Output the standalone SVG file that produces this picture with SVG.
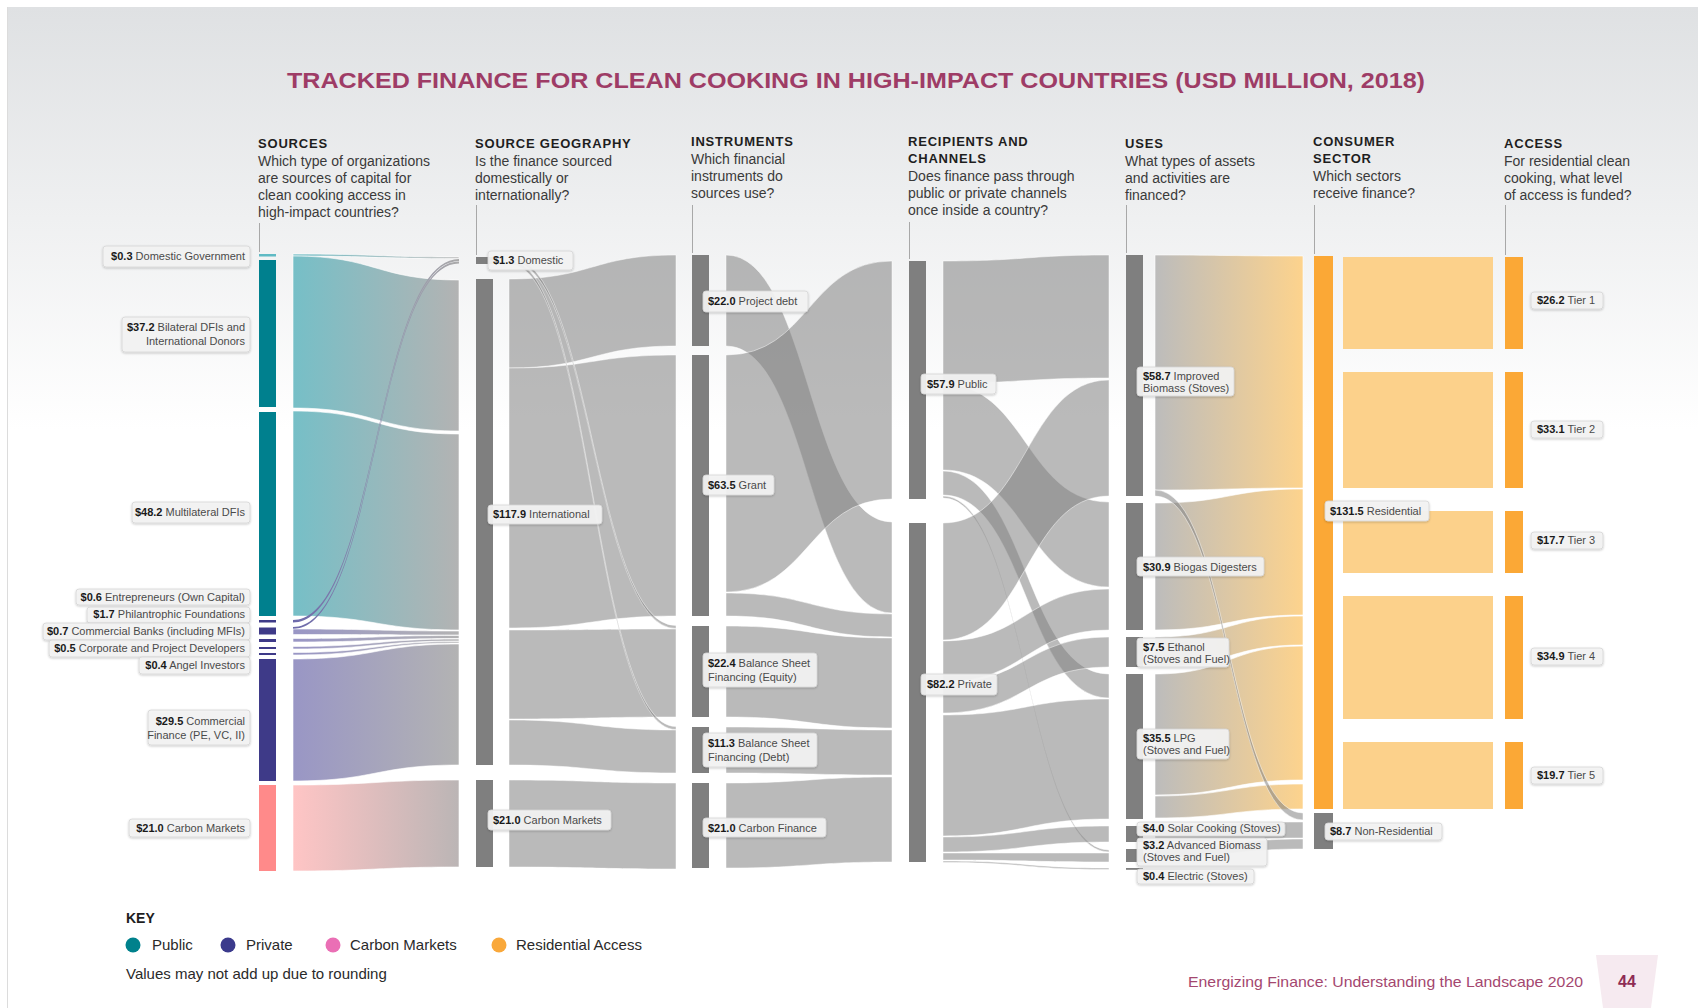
<svg xmlns="http://www.w3.org/2000/svg" width="1698" height="1008" viewBox="0 0 1698 1008">
<defs>
<linearGradient id="bg" x1="0" y1="7" x2="0" y2="430" gradientUnits="userSpaceOnUse"><stop offset="0" stop-color="#dfe1e3"/><stop offset="1" stop-color="#ffffff"/></linearGradient>
<linearGradient id="gTeal" x1="293" y1="0" x2="459" y2="0" gradientUnits="userSpaceOnUse"><stop offset="0" stop-color="#76bfc7"/><stop offset="1" stop-color="#b3b3b3"/></linearGradient>
<linearGradient id="gPurp" x1="293" y1="0" x2="459" y2="0" gradientUnits="userSpaceOnUse"><stop offset="0" stop-color="#9996c5"/><stop offset="1" stop-color="#b3b3b3"/></linearGradient>
<linearGradient id="gPurpL" x1="293" y1="0" x2="459" y2="0" gradientUnits="userSpaceOnUse"><stop offset="0" stop-color="#6d69ab"/><stop offset="1" stop-color="#aaaaaa"/></linearGradient>
<linearGradient id="gPink" x1="293" y1="0" x2="459" y2="0" gradientUnits="userSpaceOnUse"><stop offset="0" stop-color="#ffc5c5"/><stop offset="1" stop-color="#bbb5b5"/></linearGradient>
<linearGradient id="gOr" x1="1155" y1="0" x2="1303" y2="0" gradientUnits="userSpaceOnUse"><stop offset="0" stop-color="#bcbcbc"/><stop offset="1" stop-color="#fdd38d"/></linearGradient>
<filter id="sh" x="-10%" y="-30%" width="120%" height="170%"><feDropShadow dx="0" dy="1" stdDeviation="1.2" flood-color="#000" flood-opacity="0.22"/></filter>
<style>
.fl{fill:#828282;fill-opacity:.55;stroke:#fff;stroke-opacity:.6;stroke-width:.8}
.ft{fill:url(#gTeal);stroke:#fff;stroke-width:.6}
.fp{fill:url(#gPurp);stroke:#fff;stroke-width:.6}
.fpl{fill:url(#gPurpL);stroke:none}
.fk{fill:url(#gPink);stroke:#fff;stroke-width:.6}
.fo{fill:url(#gOr);stroke:#fff;stroke-width:.6}
.fr{fill:#fcd18b}
.bg{fill:#7f7f7f}
.bt{fill:#00808e}
.bp{fill:#3e3a88}
.bk{fill:#ff8a8a}
.bo{fill:#fba836}
.lb rect{fill:#f3f3f3;fill-opacity:.93;stroke:#d6d6d6;stroke-width:.8;filter:url(#sh)}
.lb text{font-family:"Liberation Sans",Arial,sans-serif;font-size:11px;fill:#4a4a4a}
.v{font-weight:bold;fill:#1a1a1a}
.hd{font-family:"Liberation Sans",Arial,sans-serif;font-size:13px;font-weight:bold;letter-spacing:.8px;fill:#1e1e1e}
.ds{font-family:"Liberation Sans",Arial,sans-serif;font-size:14px;fill:#3a3a3a}
.gl{stroke:#a8a8a8;stroke-width:1}
.kt{font-family:"Liberation Sans",Arial,sans-serif;font-size:15px;fill:#2a2a2a}
</style>
</defs>

<rect x="0" y="0" width="1698" height="1008" fill="#fff"/>
<rect x="8" y="7" width="1690" height="1001" fill="url(#bg)"/>
<line x1="7.5" y1="7" x2="7.5" y2="1008" stroke="#dcdcdc" stroke-width="1"/>

<text x="287" y="88" font-family="'Liberation Sans',Arial,sans-serif" font-size="22.5" font-weight="bold" fill="#9e3c66" textLength="1138" lengthAdjust="spacingAndGlyphs">TRACKED FINANCE FOR CLEAN COOKING IN HIGH-IMPACT COUNTRIES (USD MILLION, 2018)</text>

<g id="headers">
<text class="hd" x="258" y="148">SOURCES</text>
<text class="ds" x="258" y="166">Which type of organizations</text>
<text class="ds" x="258" y="183">are sources of capital for</text>
<text class="ds" x="258" y="200">clean cooking access in</text>
<text class="ds" x="258" y="217">high-impact countries?</text>
<text class="hd" x="475" y="148">SOURCE GEOGRAPHY</text>
<text class="ds" x="475" y="166">Is the finance sourced</text>
<text class="ds" x="475" y="183">domestically or</text>
<text class="ds" x="475" y="200">internationally?</text>
<text class="hd" x="691" y="146">INSTRUMENTS</text>
<text class="ds" x="691" y="164">Which financial</text>
<text class="ds" x="691" y="181">instruments do</text>
<text class="ds" x="691" y="198">sources use?</text>
<text class="hd" x="908" y="146">RECIPIENTS AND</text>
<text class="hd" x="908" y="163">CHANNELS</text>
<text class="ds" x="908" y="181">Does finance pass through</text>
<text class="ds" x="908" y="198">public or private channels</text>
<text class="ds" x="908" y="215">once inside a country?</text>
<text class="hd" x="1125" y="148">USES</text>
<text class="ds" x="1125" y="166">What types of assets</text>
<text class="ds" x="1125" y="183">and activities are</text>
<text class="ds" x="1125" y="200">financed?</text>
<text class="hd" x="1313" y="146">CONSUMER</text>
<text class="hd" x="1313" y="163">SECTOR</text>
<text class="ds" x="1313" y="181">Which sectors</text>
<text class="ds" x="1313" y="198">receive finance?</text>
<text class="hd" x="1504" y="148">ACCESS</text>
<text class="ds" x="1504" y="166">For residential clean</text>
<text class="ds" x="1504" y="183">cooking, what level</text>
<text class="ds" x="1504" y="200">of access is funded?</text>
<line class="gl" x1="259.5" y1="223" x2="259.5" y2="252"/>
<line class="gl" x1="476.5" y1="205" x2="476.5" y2="255"/>
<line class="gl" x1="692.5" y1="205" x2="692.5" y2="253"/>
<line class="gl" x1="909.5" y1="222" x2="909.5" y2="259"/>
<line class="gl" x1="1126.5" y1="205" x2="1126.5" y2="253"/>
<line class="gl" x1="1314.5" y1="205" x2="1314.5" y2="254"/>
<line class="gl" x1="1505.5" y1="205" x2="1505.5" y2="255"/>
</g>

<g id="connectors">
<!-- stage 1 -->
<path class="ft" d="M293 254 C376 254 376 257 459 257 L459 258.5 C376 258.5 376 256 293 256 Z"/>
<path class="ft" d="M293 256 C376 256 376 280 459 280 L459 431 C376 431 376 408 293 408 Z"/>
<path class="ft" d="M293 411 C376 411 376 434 459 434 L459 630 C376 630 376 616 293 616 Z"/>
<path class="fpl" d="M293 620 C376 620 376 259 459 259 L459 261 C376 261 376 622.5 293 622.5 Z"/>
<path class="fpl" d="M293 627 C376 627 376 261.5 459 261.5 L459 263.5 C376 263.5 376 629 293 629 Z"/>
<path class="fp" d="M293 629 C376 629 376 631 459 631 L459 635 C376 635 376 634.5 293 634.5 Z"/>
<path class="fp" d="M293 638.5 C376 638.5 376 635.5 459 635.5 L459 638.5 C376 638.5 376 642 293 642 Z"/>
<path class="fp" d="M293 646.5 C376 646.5 376 639 459 639 L459 641 C376 641 376 649 293 649 Z"/>
<path class="fp" d="M293 652.5 C376 652.5 376 641.5 459 641.5 L459 643 C376 643 376 655 293 655 Z"/>
<path class="fp" d="M293 659 C376 659 376 644 459 644 L459 765 C376 765 376 781 293 781 Z"/>
<path class="fk" d="M293 785 C376 785 376 780 459 780 L459 867 C376 867 376 871 293 871 Z"/>
<!-- stage 2 -->
<path class="fl" d="M509 279 C592.5 279 592.5 255 676 255 L676 346 C592.5 346 592.5 368 509 368 Z"/>
<path class="fl" d="M509 368 C592.5 368 592.5 355 676 355 L676 616 C592.5 616 592.5 628 509 628 Z"/>
<path class="fl" d="M509 630 C592.5 630 592.5 629 676 629 L676 717 C592.5 717 592.5 719 509 719 Z"/>
<path class="fl" d="M509 720 C592.5 720 592.5 730 676 730 L676 773 C592.5 773 592.5 765 509 765 Z"/>
<path class="fl" d="M509 257 C592.5 257 592.5 625.5 676 625.5 L676 628.5 C592.5 628.5 592.5 260.5 509 260.5 Z"/>
<path class="fl" d="M509 260.5 C592.5 260.5 592.5 726.5 676 726.5 L676 729.5 C592.5 729.5 592.5 264 509 264 Z"/>
<path class="fl" d="M509 780 C592.5 780 592.5 783 676 783 L676 869 C592.5 869 592.5 867 509 867 Z"/>
<!-- stage 3 -->
<path class="fl" d="M726 255 C809 255 809 522 892 522 L892 613 C809 613 809 346 726 346 Z"/>
<path class="fl" d="M726 355 C809 355 809 261 892 261 L892 499 C809 499 809 592 726 592 Z"/>
<path class="fl" d="M726 593 C809 593 809 614 892 614 L892 637 C809 637 809 616 726 616 Z"/>
<path class="fl" d="M726 626 C809 626 809 638 892 638 L892 728 C809 728 809 717 726 717 Z"/>
<path class="fl" d="M726 727 C809 727 809 730 892 730 L892 775 C809 775 809 773 726 773 Z"/>
<path class="fl" d="M726 783 C809 783 809 777 892 777 L892 862 C809 862 809 868 726 868 Z"/>
<!-- stage 4 -->
<path class="fl" d="M943 261 C1026 261 1026 255 1109 255 L1109 378 C1026 378 1026 383 943 383 Z"/>
<path class="fl" d="M943 384 C1026 384 1026 502 1109 502 L1109 587 C1026 587 1026 470 943 470 Z"/>
<path class="fl" d="M943 471 C1026 471 1026 674 1109 674 L1109 698 C1026 698 1026 495 943 495 Z"/>
<path class="fl" d="M943 496 C1026 496 1026 850 1109 850 L1109 852 C1026 852 1026 498 943 498 Z"/>
<path class="fl" d="M943 523 C1026 523 1026 380 1109 380 L1109 496 C1026 496 1026 640 943 640 Z"/>
<path class="fl" d="M943 641 C1026 641 1026 589 1109 589 L1109 630 C1026 630 1026 682 943 682 Z"/>
<path class="fl" d="M943 683 C1026 683 1026 637 1109 637 L1109 667 C1026 667 1026 713 943 713 Z"/>
<path class="fl" d="M943 715 C1026 715 1026 699 1109 699 L1109 819 C1026 819 1026 836 943 836 Z"/>
<path class="fl" d="M943 837 C1026 837 1026 826 1109 826 L1109 842 C1026 842 1026 852 943 852 Z"/>
<path class="fl" d="M943 853 C1026 853 1026 853 1109 853 L1109 862 C1026 862 1026 860 943 860 Z"/>
<path class="fl" d="M943 861 C1026 861 1026 868 1109 868 L1109 869.5 C1026 869.5 1026 862.5 943 862.5 Z"/>
<!-- stage 5 -->
<path class="fo" d="M1155 255 C1229 255 1229 256 1303 256 L1303 488 C1229 488 1229 490 1155 490 Z"/>
<path class="fo" d="M1155 503 C1229 503 1229 489 1303 489 L1303 615 C1229 615 1229 630 1155 630 Z"/>
<path class="fo" d="M1155 637 C1229 637 1229 616 1303 616 L1303 645 C1229 645 1229 667 1155 667 Z"/>
<path class="fo" d="M1155 674 C1229 674 1229 646 1303 646 L1303 780 C1229 780 1229 795 1155 795 Z"/>
<path class="fo" d="M1155 796 C1229 796 1229 784 1303 784 L1303 809 C1229 809 1229 818 1155 818 Z"/>
<path class="fl" d="M1155 490 C1229 490 1229 813 1303 813 L1303 820 C1229 820 1229 496 1155 496 Z"/>
<path class="fl" d="M1155 826 C1229 826 1229 822 1303 822 L1303 838 C1229 838 1229 842 1155 842 Z"/>
<path class="fl" d="M1155 849 C1229 849 1229 839 1303 839 L1303 849 C1229 849 1229 858 1155 858 Z"/>
<!-- stage 6 -->
<rect class="fr" x="1343" y="257" width="150" height="92"/>
<rect class="fr" x="1343" y="372" width="150" height="116"/>
<rect class="fr" x="1343" y="511" width="150" height="62"/>
<rect class="fr" x="1343" y="596" width="150" height="123"/>
<rect class="fr" x="1343" y="742" width="150" height="67"/>
</g>

<!-- SOURCES -->
<g id="n-domgov"><rect x="259" y="254" width="17" height="2.5" fill="#5fbac4"/>
<g class="lb"><rect x="103" y="246" width="147" height="21" rx="3"/><text x="245" y="260" text-anchor="end"><tspan class="v">$0.3</tspan> Domestic Government</text></g></g>
<g id="n-bilateral"><rect class="bt" x="259" y="260" width="17" height="147"/>
<g class="lb"><rect x="122" y="317" width="128" height="35" rx="3"/><text x="245" y="331" text-anchor="end"><tspan class="v">$37.2</tspan> Bilateral DFIs and</text><text x="245" y="345" text-anchor="end">International Donors</text></g></g>
<g id="n-multilateral"><rect class="bt" x="259" y="412" width="17" height="204"/>
<g class="lb"><rect x="132" y="502" width="118" height="21" rx="3"/><text x="245" y="516" text-anchor="end"><tspan class="v">$48.2</tspan> Multilateral DFIs</text></g></g>
<g id="n-entrepreneurs"><rect class="bp" x="259" y="620" width="17" height="2.5"/>
<g class="lb"><rect x="76" y="589" width="174" height="16" rx="3"/><text x="245" y="601" text-anchor="end"><tspan class="v">$0.6</tspan> Entrepreneurs (Own Capital)</text></g></g>
<g id="n-philanthropic"><rect class="bp" x="259" y="627.5" width="17" height="7"/>
<g class="lb"><rect x="87" y="607" width="163" height="16" rx="3"/><text x="245" y="618" text-anchor="end"><tspan class="v">$1.7</tspan> Philantrophic Foundations</text></g></g>
<g id="n-banks"><rect class="bp" x="259" y="639" width="17" height="3"/>
<g class="lb"><rect x="43" y="623" width="207" height="17" rx="3"/><text x="245" y="635" text-anchor="end"><tspan class="v">$0.7</tspan> Commercial Banks (including MFIs)</text></g></g>
<g id="n-corporate"><rect class="bp" x="259" y="647" width="17" height="2"/>
<g class="lb"><rect x="49" y="640" width="201" height="17" rx="3"/><text x="245" y="652" text-anchor="end"><tspan class="v">$0.5</tspan> Corporate and Project Developers</text></g></g>
<g id="n-angel"><rect class="bp" x="259" y="653" width="17" height="2"/>
<g class="lb"><rect x="139" y="657" width="111" height="17" rx="3"/><text x="245" y="669" text-anchor="end"><tspan class="v">$0.4</tspan> Angel Investors</text></g></g>
<g id="n-commfin"><rect class="bp" x="259" y="659" width="17" height="122"/>
<g class="lb"><rect x="148" y="710" width="102" height="35" rx="3"/><text x="245" y="725" text-anchor="end"><tspan class="v">$29.5</tspan> Commercial</text><text x="245" y="739" text-anchor="end">Finance (PE, VC, II)</text></g></g>
<g id="n-carbon"><rect class="bk" x="259" y="785" width="17" height="86"/>
<g class="lb"><rect x="129" y="819" width="121" height="18" rx="3"/><text x="245" y="832" text-anchor="end"><tspan class="v">$21.0</tspan> Carbon Markets</text></g></g>

<!-- SOURCE GEOGRAPHY -->
<g id="n-domestic"><rect class="bg" x="476" y="257" width="17" height="7"/>
<g class="lb"><rect x="488" y="251" width="85" height="19" rx="3"/><text x="493" y="264"><tspan class="v">$1.3</tspan> Domestic</text></g></g>
<g id="n-international"><rect class="bg" x="476" y="279" width="17" height="486"/>
<g class="lb"><rect x="488" y="505" width="114" height="19" rx="3"/><text x="493" y="518"><tspan class="v">$117.9</tspan> International</text></g></g>
<g id="n-carbongeo"><rect class="bg" x="476" y="780" width="17" height="87"/>
<g class="lb"><rect x="488" y="810" width="123" height="20" rx="3"/><text x="493" y="824"><tspan class="v">$21.0</tspan> Carbon Markets</text></g></g>

<!-- INSTRUMENTS -->
<g id="n-projectdebt"><rect class="bg" x="692" y="255" width="17" height="91"/>
<g class="lb"><rect x="703" y="291" width="105" height="21" rx="3"/><text x="708" y="305"><tspan class="v">$22.0</tspan> Project debt</text></g></g>
<g id="n-grant"><rect class="bg" x="692" y="355" width="17" height="261"/>
<g class="lb"><rect x="703" y="475" width="71" height="20" rx="3"/><text x="708" y="489"><tspan class="v">$63.5</tspan> Grant</text></g></g>
<g id="n-equity"><rect class="bg" x="692" y="626" width="17" height="91"/>
<g class="lb"><rect x="703" y="653" width="114" height="34" rx="3"/><text x="708" y="667"><tspan class="v">$22.4</tspan> Balance Sheet</text><text x="708" y="681">Financing (Equity)</text></g></g>
<g id="n-bsdebt"><rect class="bg" x="692" y="727" width="17" height="46"/>
<g class="lb"><rect x="703" y="733" width="114" height="34" rx="3"/><text x="708" y="747"><tspan class="v">$11.3</tspan> Balance Sheet</text><text x="708" y="761">Financing (Debt)</text></g></g>
<g id="n-carbonfin"><rect class="bg" x="692" y="783" width="17" height="85"/>
<g class="lb"><rect x="703" y="818" width="123" height="19" rx="3"/><text x="708" y="832"><tspan class="v">$21.0</tspan> Carbon Finance</text></g></g>

<!-- RECIPIENTS -->
<g id="n-public"><rect class="bg" x="909" y="261" width="17" height="238"/>
<g class="lb"><rect x="921" y="374" width="75" height="20" rx="3"/><text x="927" y="388"><tspan class="v">$57.9</tspan> Public</text></g></g>
<g id="n-private"><rect class="bg" x="909" y="523" width="17" height="339"/>
<g class="lb"><rect x="921" y="674" width="76" height="21" rx="3"/><text x="927" y="688"><tspan class="v">$82.2</tspan> Private</text></g></g>

<!-- USES -->
<g id="n-biomass"><rect class="bg" x="1126" y="255" width="17" height="241"/>
<g class="lb"><rect x="1137" y="367" width="97" height="29" rx="3"/><text x="1143" y="380"><tspan class="v">$58.7</tspan> Improved</text><text x="1143" y="392">Biomass (Stoves)</text></g></g>
<g id="n-biogas"><rect class="bg" x="1126" y="503" width="17" height="127"/>
<g class="lb"><rect x="1137" y="557" width="127" height="19" rx="3"/><text x="1143" y="571"><tspan class="v">$30.9</tspan> Biogas Digesters</text></g></g>
<g id="n-ethanol"><rect class="bg" x="1126" y="637" width="17" height="30"/>
<g class="lb"><rect x="1137" y="638" width="92" height="29" rx="3"/><text x="1143" y="651"><tspan class="v">$7.5</tspan> Ethanol</text><text x="1143" y="663">(Stoves and Fuel)</text></g></g>
<g id="n-lpg"><rect class="bg" x="1126" y="674" width="17" height="145"/>
<g class="lb"><rect x="1137" y="729" width="92" height="30" rx="3"/><text x="1143" y="742"><tspan class="v">$35.5</tspan> LPG</text><text x="1143" y="754">(Stoves and Fuel)</text></g></g>
<g id="n-solar"><rect class="bg" x="1126" y="826" width="17" height="16"/>
<g class="lb"><rect x="1137" y="822" width="148" height="14" rx="3"/><text x="1143" y="832"><tspan class="v">$4.0</tspan> Solar Cooking (Stoves)</text></g></g>
<g id="n-advbiomass"><rect class="bg" x="1126" y="849" width="17" height="13"/>
<g class="lb"><rect x="1137" y="838" width="130" height="28" rx="3"/><text x="1143" y="849"><tspan class="v">$3.2</tspan> Advanced Biomass</text><text x="1143" y="861">(Stoves and Fuel)</text></g></g>
<g id="n-electric"><rect class="bg" x="1126" y="868" width="17" height="1.8"/>
<g class="lb"><rect x="1137" y="869" width="117" height="15" rx="3"/><text x="1143" y="880"><tspan class="v">$0.4</tspan> Electric (Stoves)</text></g></g>

<!-- CONSUMER SECTOR -->
<g id="n-residential"><rect class="bo" x="1314" y="256" width="19" height="553"/>
<g class="lb"><rect x="1325" y="501" width="104" height="20" rx="3"/><text x="1330" y="515"><tspan class="v">$131.5</tspan> Residential</text></g></g>
<g id="n-nonresidential"><rect class="bg" x="1314" y="813" width="19" height="36"/>
<g class="lb"><rect x="1325" y="823" width="117" height="17" rx="3"/><text x="1330" y="835"><tspan class="v">$8.7</tspan> Non-Residential</text></g></g>

<!-- ACCESS -->
<g id="n-tier1"><rect class="bo" x="1505" y="257" width="18" height="92"/>
<g class="lb"><rect x="1531" y="292" width="72" height="17" rx="3"/><text x="1537" y="304"><tspan class="v">$26.2</tspan> Tier 1</text></g></g>
<g id="n-tier2"><rect class="bo" x="1505" y="372" width="18" height="116"/>
<g class="lb"><rect x="1531" y="421" width="72" height="17" rx="3"/><text x="1537" y="433"><tspan class="v">$33.1</tspan> Tier 2</text></g></g>
<g id="n-tier3"><rect class="bo" x="1505" y="511" width="18" height="62"/>
<g class="lb"><rect x="1531" y="532" width="72" height="17" rx="3"/><text x="1537" y="544"><tspan class="v">$17.7</tspan> Tier 3</text></g></g>
<g id="n-tier4"><rect class="bo" x="1505" y="596" width="18" height="123"/>
<g class="lb"><rect x="1531" y="648" width="72" height="17" rx="3"/><text x="1537" y="660"><tspan class="v">$34.9</tspan>  Tier 4</text></g></g>
<g id="n-tier5"><rect class="bo" x="1505" y="742" width="18" height="67"/>
<g class="lb"><rect x="1531" y="767" width="72" height="17" rx="3"/><text x="1537" y="779"><tspan class="v">$19.7</tspan> Tier 5</text></g></g>

<g id="key">
<text x="126" y="923" font-family="'Liberation Sans',Arial,sans-serif" font-size="14" font-weight="bold" fill="#1e1e1e">KEY</text>
<circle cx="133" cy="945" r="7.5" fill="#00818c"/><text class="kt" x="152" y="950">Public</text>
<circle cx="228" cy="945" r="7.5" fill="#3b3a8c"/><text class="kt" x="246" y="950">Private</text>
<circle cx="333" cy="945" r="7.5" fill="#ea6fb5"/><text class="kt" x="350" y="950">Carbon Markets</text>
<circle cx="499" cy="945" r="7.5" fill="#f9a83b"/><text class="kt" x="516" y="950">Residential Access</text>
<text class="kt" x="126" y="979">Values may not add up due to rounding</text>
</g>

<g id="footer">
<text x="1188" y="987" font-family="'Liberation Sans',Arial,sans-serif" font-size="15" fill="#a4476f" textLength="395" lengthAdjust="spacingAndGlyphs">Energizing Finance: Understanding the Landscape 2020</text>
<polygon points="1596,955 1658,955 1651,1008 1603,1008" fill="#f6eaf0"/>
<text x="1627" y="987" text-anchor="middle" font-family="'Liberation Sans',Arial,sans-serif" font-size="16" font-weight="bold" fill="#8e2c55">44</text>
</g>
</svg>
